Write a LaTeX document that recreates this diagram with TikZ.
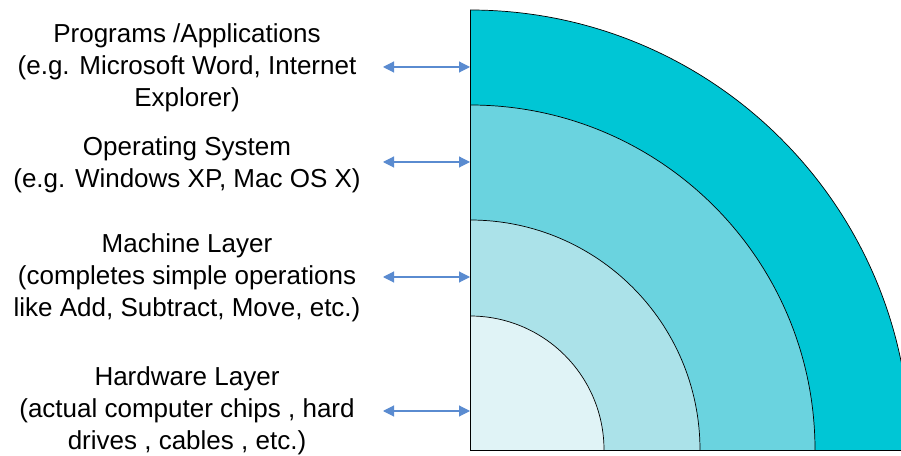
\documentclass[tikz,border=0pt]{standalone}
\usepackage{fontspec}
\setmainfont{Liberation Sans}
\usetikzlibrary{arrows.meta}
\definecolor{ring1}{HTML}{00C6D5}
\definecolor{ring2}{HTML}{6AD3DF}
\definecolor{ring3}{HTML}{ABE2E9}
\definecolor{ring4}{HTML}{E0F3F6}
\definecolor{arrowblue}{HTML}{5A8BD0}
\begin{document}
\begin{tikzpicture}[x=1pt,y=1pt,
  label/.style={align=center,font=\fontsize{26}{32}\selectfont,inner sep=0pt},
  layerarrow/.style={draw=arrowblue,line width=1.1pt,{Triangle[length=11pt,width=11pt]}-{Triangle[length=11pt,width=11pt]}},
  arcline/.style={draw=black,line width=0.7pt}]
\useasboundingbox (0,0) rectangle (901,455);
\coordinate (O) at (470,5);
\begin{scope}
\clip (0,0) rectangle (901,455);
\fill[ring1] (O) -- ++(440,0) arc (0:90:440) -- cycle;
\draw[arcline] (O) ++(440,0) arc (0:90:440);
\fill[ring2] (O) -- ++(345,0) arc (0:90:345) -- cycle;
\draw[arcline] (O) ++(345,0) arc (0:90:345);
\fill[ring3] (O) -- ++(230,0) arc (0:90:230) -- cycle;
\draw[arcline] (O) ++(230,0) arc (0:90:230);
\fill[ring4] (O) -- ++(134,0) arc (0:90:134) -- cycle;
\draw[arcline] (O) ++(134,0) arc (0:90:134);
\draw[arcline,line width=1pt] (470,445) -- (O) -- (901,5);
\end{scope}

\node[label] (t1) at (187,387) {Programs /Applications\\(e.g. Microsoft Word, Internet\\Explorer)};
\node[label] (t2) at (187,290.5) {Operating System\\(e.g. Windows XP, Mac OS X)};
\node[label] (t3) at (187,177) {Machine Layer\\(completes simple operations\\like Add, Subtract, Move, etc.)};
\node[label] (t4) at (187,44) {Hardware Layer\\(actual computer chips , hard\\drives , cables , etc.)};

\coordinate (a1l) at (383,388); \coordinate (a1r) at (470,388);
\coordinate (a2l) at (383,293); \coordinate (a2r) at (470,293);
\coordinate (a3l) at (383,178); \coordinate (a3r) at (470,178);
\coordinate (a4l) at (383,44);  \coordinate (a4r) at (470,44);
\draw[layerarrow] (a1l) -- (a1r);
\draw[layerarrow] (a2l) -- (a2r);
\draw[layerarrow] (a3l) -- (a3r);
\draw[layerarrow] (a4l) -- (a4r);
\end{tikzpicture}
\end{document}
